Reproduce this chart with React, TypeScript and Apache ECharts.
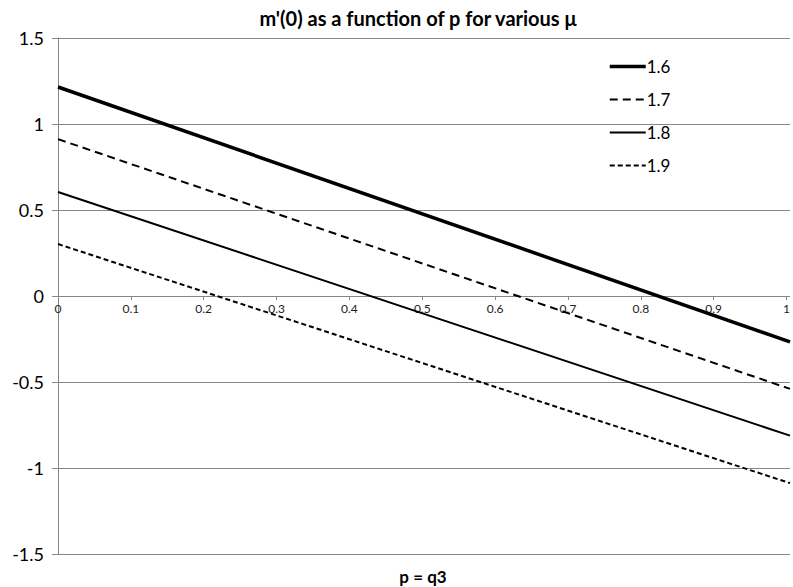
import React, { useEffect, useRef } from "react";
import * as echarts from "echarts";

const seriesNames = ["1.6", "1.7", "1.8", "1.9"];
const pValues = [0, 1];
const mu16 = [1.215, -0.267];
const mu17 = [0.912, -0.54];
const mu18 = [0.605, -0.812];
const mu19 = [0.302, -1.088];
const yTicks = [-1.5, -1, -0.5, 0, 0.5, 1, 1.5];

const FONT = "Lato, 'Open Sans', sans-serif";

export default function App() {
  const ref = useRef<HTMLDivElement>(null);
  useEffect(() => {
    if (!ref.current) return;
    const chart = echarts.init(ref.current, null, { renderer: "svg" });
    const all = [mu16, mu17, mu18, mu19];
    const styles = [
      { width: 3.5, type: "solid" as any },
      { width: 2, type: [8, 5] as any },
      { width: 2, type: "solid" as any },
      { width: 2, type: [5, 3] as any },
    ];
    const top = 38;
    const bottom = 33;
    const plotH = 587 - top - bottom;
    const yMin = yTicks[0];
    const yMax = yTicks[yTicks.length - 1];
    const zeroY = top + ((yMax - 0) / (yMax - yMin)) * plotH;
    chart.setOption({
      animation: false,
      backgroundColor: "#ffffff",
      title: [
        {
          text: "m'(0) as a function of p for various μ",
          left: 413,
          top: 3,
          textAlign: "center",
          textStyle: { fontFamily: FONT, fontSize: 20, fontWeight: "bold", color: "#000" },
        },
        {
          text: "p = q3",
          left: 418,
          top: 563,
          textAlign: "center",
          textStyle: { fontFamily: FONT, fontSize: 17, fontWeight: "bold", color: "#000" },
        },
      ],
      legend: {
        orient: "vertical",
        left: 603,
        top: 53,
        itemWidth: 36,
        itemHeight: 14,
        itemGap: 16,
        itemStyle: { opacity: 0 },
        textStyle: { fontFamily: FONT, fontSize: 17, color: "#000", padding: [0, 0, 0, -4] },
        data: seriesNames.map((name, i) => ({
          name,
          lineStyle: { width: styles[i].width, type: styles[i].type, color: "#000" },
        })),
      },
      grid: [
        { left: 58, right: 3, top, bottom, containLabel: false },
        { left: 58, right: 3, top, bottom: 587 - zeroY, containLabel: false },
      ],
      xAxis: [
        {
          type: "value",
          gridIndex: 0,
          min: 0,
          max: 1,
          interval: 0.1,
          axisLine: { show: false },
          axisTick: { show: false },
          axisLabel: { show: false },
          splitLine: { show: false },
        },
        {
          type: "value",
          gridIndex: 1,
          min: 0,
          max: 1,
          interval: 0.1,
          position: "bottom",
          axisLine: { show: true, onZero: false, lineStyle: { color: "#868686", width: 1 } },
          axisTick: { show: true, length: 4, lineStyle: { color: "#868686" } },
          axisLabel: {
            fontFamily: FONT,
            fontSize: 12,
            color: "#222",
            margin: 6,
            formatter: (v: number) => String(Math.round(v * 10) / 10),
          },
          splitLine: { show: false },
        },
      ],
      yAxis: [
        {
          type: "value",
          gridIndex: 0,
          min: yMin,
          max: yMax,
          interval: 0.5,
          axisLine: { show: true, onZero: false, lineStyle: { color: "#868686", width: 1 } },
          axisTick: { show: true, length: 6, inside: false, lineStyle: { color: "#868686" } },
          axisLabel: { fontFamily: FONT, fontSize: 18, color: "#000", margin: 14 },
          splitLine: { show: true, lineStyle: { color: "#868686", width: 1 } },
        },
        {
          type: "value",
          gridIndex: 1,
          min: 0,
          max: 1,
          show: false,
        },
      ],
      series: seriesNames.map((name, i) => ({
        name,
        type: "line",
        xAxisIndex: 0,
        yAxisIndex: 0,
        symbol: "none",
        z: 5,
        data: pValues.map((p, j) => [p, all[i][j]]),
        lineStyle: { color: "#000", width: styles[i].width, type: styles[i].type },
        itemStyle: { color: "#000" },
      })),
    });
    return () => chart.dispose();
  }, []);
  return <div ref={ref} style={{ width: 793, height: 587, position: "absolute", left: 0, top: 0 }} />;
}
